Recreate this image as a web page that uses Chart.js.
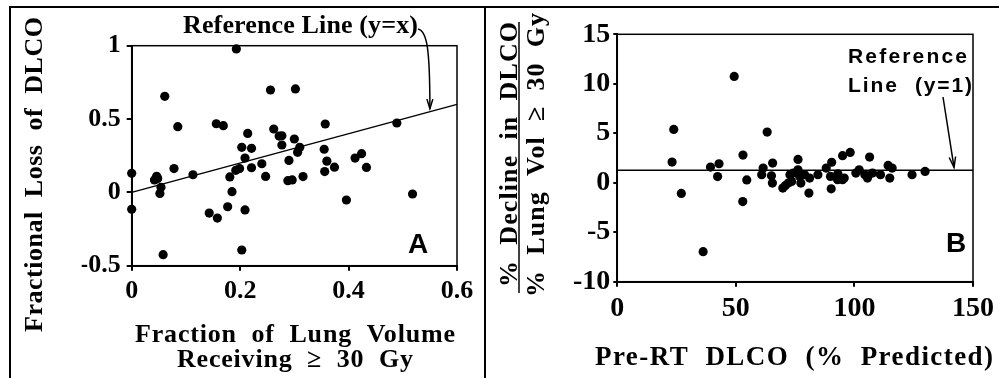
<!DOCTYPE html>
<html><head><meta charset="utf-8">
<script src="https://cdn.jsdelivr.net/npm/chart.js@4/dist/chart.umd.min.js"></script>
<style>
html,body{margin:0;padding:0;background:#fff;width:999px;height:378px;overflow:hidden;}
#wrap{position:relative;width:999px;height:378px;}
.rule{position:absolute;background:#000;}
canvas{position:absolute;top:0;}
</style></head>
<body><div id="wrap">
<div class="rule" style="left:9px;top:6px;width:990px;height:2px;"></div>
<div class="rule" style="left:9px;top:6px;width:2px;height:372px;"></div>
<div class="rule" style="left:484px;top:6px;width:2px;height:372px;"></div>
<canvas id="cA" width="485" height="378" style="left:0;width:485px;height:378px;"></canvas>
<canvas id="cB" width="514" height="378" style="left:485px;width:514px;height:378px;"></canvas>
</div>
<script>
// ---------- Panel A data ----------
const fracVolA = [0,0,0.042,0.046,0.048,0.054,0.052,0.058,0.061,0.078,0.085,0.113,0.143,0.156,0.158,0.169,0.177,0.181,0.185,0.192,0.193,0.199,0.203,0.203,0.209,0.209,0.214,0.221,0.221,0.24,0.247,0.256,0.262,0.272,0.277,0.277,0.29,0.288,0.296,0.3,0.302,0.306,0.31,0.316,0.355,0.357,0.356,0.36,0.374,0.396,0.412,0.424,0.433,0.489,0.518];
const lossA    = [0.13,-0.115,0.085,0.11,0.095,0.035,-0.007,-0.425,0.655,0.162,0.448,0.12,-0.141,0.468,-0.175,0.455,-0.098,0.105,0.005,0.15,0.978,0.162,0.307,-0.393,0.234,-0.12,0.402,0.3,0.168,0.195,0.109,0.698,0.432,0.384,0.386,0.323,0.218,0.08,0.085,0.364,0.705,0.273,0.307,0.108,0.294,0.466,0.142,0.213,0.172,-0.052,0.234,0.264,0.17,0.473,-0.011];
const refLineAX = [0, 0.6];          // y = x
const xTicksA = [0, 0.2, 0.4, 0.6];
const yTicksA = [-0.5, 0, 0.5, 1];

// ---------- Panel B data ----------
const preDlcoB = [23.1,23.8,27.0,36.2,39.3,42.9,42.3,49.3,53.0,52.9,54.6,61.5,60.9,63.2,65.5,65.0,65.4,69.8,70.8,72.8,74.2,73.5,72.1,76.2,76.2,77.4,76.9,79.0,81.1,80.8,84.6,88.1,90.4,90.2,89.9,92.9,95.7,95.0,98.2,93.0,95.0,100.6,102.0,104.4,105.5,106.4,107.6,111.0,114.2,115.9,114.9,124.3,129.8];
const ratioB   = [2.09,5.39,-1.08,-6.97,1.58,1.92,0.62,10.74,2.8,-1.9,0.28,1.48,0.81,5.12,1.99,0.7,-0.03,-0.54,-0.3,0.81,0.98,0.13,-0.03,2.36,1.31,-0.03,0.64,0.81,0.47,-1.04,0.81,1.48,2.07,-0.61,0.64,0.3,0.47,2.73,3.06,0.91,0.3,0.98,1.31,0.81,0.47,2.59,0.98,0.81,1.75,1.48,0.47,0.81,1.14];
const refLineBX = [0, 150];
const refLineBY = 1.25;              // drawn reference level
const xTicksB = [0, 50, 100, 150];
const yTicksB = [-10, -5, 0, 5, 10, 15];

const SERIF = "'Liberation Serif','Times New Roman',serif";
const SANS = "'Liberation Sans',Arial,sans-serif";

function fitText(ctx, text, x, y, width, font, align) {
  ctx.font = font;
  ctx.letterSpacing = '0px';
  const w = ctx.measureText(text).width;
  const n = Array.from(text).length;
  const ls = n > 1 ? (width - w) / (n - 1) : 0;
  ctx.letterSpacing = ls + 'px';
  ctx.textAlign = 'left';
  ctx.textBaseline = 'alphabetic';
  const left = align === 'center' ? x - width / 2 : (align === 'right' ? x - width : x);
  ctx.fillText(text, left, y);
  ctx.letterSpacing = '0px';
}
function arrowHead(ctx, tx, ty, angle, len, spread) {
  ctx.beginPath();
  ctx.moveTo(tx - len * Math.cos(angle - spread), ty - len * Math.sin(angle - spread));
  ctx.lineTo(tx, ty);
  ctx.lineTo(tx - len * Math.cos(angle + spread), ty - len * Math.sin(angle + spread));
  ctx.stroke();
}

function axisOpts(min, max, tickList, fontSize, tickLen, pad, fitSize, isX) {
  return {
    type: 'linear', min: min, max: max,
    afterBuildTicks: s => { s.ticks = tickList.map(v => ({ value: v })); },
    afterFit: s => { if (isX) s.height = fitSize; else s.width = fitSize; },
    ticks: { font: { family: SERIF, size: fontSize, weight: 'bold' }, color: '#000', padding: pad,
             maxRotation: 0, autoSkip: false, callback: v => String(v) },
    grid: { drawOnChartArea: false, drawTicks: true, tickLength: tickLen, color: '#000', lineWidth: 2 },
    border: { display: true, color: '#000', width: 2 }
  };
}

const framePlugin = {
  id: 'frame',
  beforeDatasetsDraw(chart) {
    const a = chart.chartArea, ctx = chart.ctx;
    ctx.save();
    ctx.strokeStyle = '#000'; ctx.lineWidth = 1.5;
    ctx.strokeRect(a.left, a.top, a.right - a.left, a.bottom - a.top);
    ctx.restore();
  }
};

// ---------- Chart A ----------
const annotA = {
  id: 'annotA',
  afterDraw(chart) {
    const ctx = chart.ctx, xs = chart.scales.x, ys = chart.scales.y, a = chart.chartArea;
    ctx.save();
    ctx.fillStyle = '#000'; ctx.strokeStyle = '#000';
    // y title
    ctx.save();
    ctx.translate(42, 174.5); ctx.rotate(-Math.PI / 2);
    fitText(ctx, 'Fractional  Loss  of  DLCO', 0, 0, 315, 'bold 26px ' + SERIF, 'center');
    ctx.restore();
    // x title
    fitText(ctx, 'Fraction  of  Lung  Volume', 295, 342, 320, 'bold 26px ' + SERIF, 'center');
    fitText(ctx, 'Receiving  \u2265  30  Gy', 295, 367, 236, 'bold 26px ' + SERIF, 'center');
    // reference label
    fitText(ctx, 'Reference Line (y=x)', 300.5, 33, 235, 'bold 26px ' + SERIF, 'center');
    // panel letter
    fitText(ctx, 'A', a.right - 27, a.bottom - 12.5, 22, 'bold 28px ' + SANS, 'right');
    // curved arrow
    const tx = xs.getPixelForValue(0.55), ty = ys.getPixelForValue(0.55) - 3;
    ctx.lineWidth = 1.5;
    ctx.beginPath();
    ctx.moveTo(418, 29);
    ctx.bezierCurveTo(427, 31, tx, 48, tx, ty);
    ctx.stroke();
    arrowHead(ctx, tx, ty, Math.PI / 2, 10, 0.3);
    ctx.restore();
  }
};

new Chart(document.getElementById('cA'), {
  type: 'scatter',
  data: {
    datasets: [
      { type: 'line', data: refLineAX.map(v => ({ x: v, y: v })), borderColor: '#000', borderWidth: 1.5,
        pointRadius: 0, fill: false, tension: 0, clip: false },
      { data: fracVolA.map((v, i) => ({ x: v, y: lossA[i] })), backgroundColor: '#000', borderWidth: 0,
        pointRadius: 4.6, clip: false }
    ]
  },
  options: {
    responsive: false, animation: false, devicePixelRatio: 1,
    layout: { padding: { left: 81.7, right: 28, top: 45.7, bottom: 72.3 } },
    plugins: { legend: { display: false }, tooltip: { enabled: false } },
    scales: {
      x: axisOpts(0, 0.6, xTicksA, 26, 5, 5, 40, true),
      y: axisOpts(-0.5, 1, yTicksA, 26, 5, 6, 50, false)
    }
  },
  plugins: [framePlugin, annotA]
});

// ---------- Chart B ----------
const annotB = {
  id: 'annotB',
  afterDraw(chart) {
    const ctx = chart.ctx, xs = chart.scales.x, ys = chart.scales.y, a = chart.chartArea;
    ctx.save();
    ctx.fillStyle = '#000'; ctx.strokeStyle = '#000';
    // y title (fraction)
    ctx.save();
    ctx.translate(32, 154.5); ctx.rotate(-Math.PI / 2);
    fitText(ctx, '%  Decline  in  DLCO', 0, 0, 265, 'bold 26px ' + SERIF, 'center');
    ctx.restore();
    ctx.lineWidth = 1.5;
    ctx.beginPath(); ctx.moveTo(34, 22); ctx.lineTo(34, 293); ctx.stroke();
    ctx.save();
    ctx.translate(59, 155); ctx.rotate(-Math.PI / 2);
    fitText(ctx, '%  Lung  Vol  \u2265  30  Gy', 0, 0, 284, 'bold 26px ' + SERIF, 'center');
    ctx.restore();
    // x title
    fitText(ctx, 'Pre-RT  DLCO  (%  Predicted)', 309, 365, 398, 'bold 27px ' + SERIF, 'center');
    // reference label
    fitText(ctx, 'Reference', 363, 63, 119, 'bold 21px ' + SANS, 'left');
    fitText(ctx, 'Line', 363, 92, 49, 'bold 21px ' + SANS, 'left');
    fitText(ctx, '(y=1)', 430, 92, 57, 'bold 21px ' + SANS, 'left');
    // panel letter
    fitText(ctx, 'B', a.right - 5, a.bottom - 30, 22, 'bold 28px ' + SANS, 'right');
    // straight arrow
    const tx = xs.getPixelForValue(142), ty = ys.getPixelForValue(refLineBY) - 3;
    const sx = 458, sy = 97;
    ctx.lineWidth = 1.5;
    ctx.beginPath(); ctx.moveTo(sx, sy); ctx.lineTo(tx, ty); ctx.stroke();
    arrowHead(ctx, tx, ty, Math.atan2(ty - sy, tx - sx), 11, 0.3);
    ctx.restore();
  }
};

new Chart(document.getElementById('cB'), {
  type: 'scatter',
  data: {
    datasets: [
      { type: 'line', data: refLineBX.map(v => ({ x: v, y: refLineBY })), borderColor: '#000', borderWidth: 1.5,
        pointRadius: 0, fill: false, tension: 0, clip: false },
      { data: preDlcoB.map((v, i) => ({ x: v, y: ratioB[i] })), backgroundColor: '#000', borderWidth: 0,
        pointRadius: 4.6, clip: false }
    ]
  },
  options: {
    responsive: false, animation: false, devicePixelRatio: 1,
    layout: { padding: { left: 77.3, right: 22.3, top: 34.3, bottom: 56.3 } },
    plugins: { legend: { display: false }, tooltip: { enabled: false } },
    scales: {
      x: axisOpts(0, 150, xTicksB, 28, 5, 5, 40, true),
      y: axisOpts(-10, 15, yTicksB, 28, 4, 3, 55, false)
    }
  },
  plugins: [framePlugin, annotB]
});
</script>
</body></html>
